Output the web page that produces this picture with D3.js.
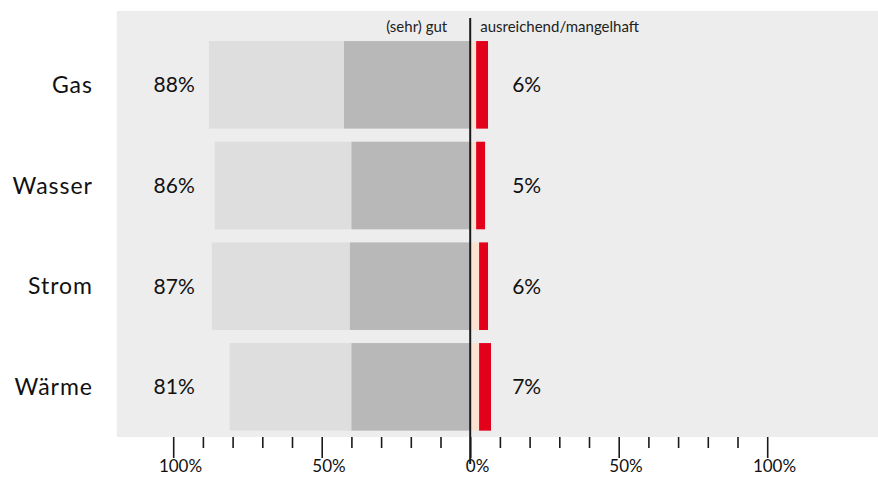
<!DOCTYPE html>
<html lang="de">
<head>
<meta charset="utf-8">
<script src="https://cdn.jsdelivr.net/npm/d3@7/dist/d3.min.js"></script>
<style>
  html, body { margin: 0; padding: 0; background: #ffffff; }
  svg { display: block; font-family: "Lato", "Noto Sans", sans-serif; }
</style>
</head>
<body>
<svg id="chart" width="878" height="477"></svg>
<script>
// Zufriedenheit mit den Versorgungssparten (Anteile in Prozent)
const categories   = ["Gas", "Wasser", "Strom", "Wärme"];
const sehrGut      = [42.5, 40, 40.5, 40];   // dunkles Segment, direkt an der Nulllinie
const gut          = [45.5, 46, 46.5, 41];   // helles Segment, außen
const ausreichend  = [2, 2, 3, 3];           // helles Segment rechts
const mangelhaft   = [4, 3, 3, 4];           // rotes Segment rechts
const headerLeft   = "(sehr) gut";
const headerRight  = "ausreichend/mangelhaft";
const tickValues   = d3.range(-100, 101, 10);
const majorTicks   = [-100, -50, 0, 50, 100];

const svg = d3.select("#chart");

// Horizontal scale: percent, mirrored around zero
const x = d3.scaleLinear().domain([-100, 100]).range([173.2, 767.2]);
const panelDomain = [-119, 137.4];

const y = d3.scaleBand()
  .domain(categories)
  .range([34.5, 437.2])
  .paddingInner(0.13)
  .paddingOuter(0.065);

const panelTop = 11, panelBottom = 437;

// Background panel
svg.append("rect")
  .attr("x", x(panelDomain[0]))
  .attr("y", panelTop)
  .attr("width", x(panelDomain[1]) - x(panelDomain[0]))
  .attr("height", panelBottom - panelTop)
  .attr("fill", "#ededed");

// Stacked segments per category
const rows = categories.map((c, i) => ({
  cat: c,
  segs: [
    { from: -(sehrGut[i] + gut[i]), to: -sehrGut[i], color: "#dedede" },
    { from: -sehrGut[i], to: 0, color: "#b8b8b8" },
    { from: 0, to: ausreichend[i], color: "#fde2d2" },
    { from: ausreichend[i], to: ausreichend[i] + mangelhaft[i], color: "#e2001a" }
  ],
  pos: sehrGut[i] + gut[i],
  neg: ausreichend[i] + mangelhaft[i]
}));

const rowG = svg.selectAll("g.row").data(rows).join("g").attr("class", "row");

rowG.selectAll("rect")
  .data(d => d.segs.map(s => ({ ...s, cat: d.cat })))
  .join("rect")
  .attr("x", s => x(Math.min(s.from, s.to)))
  .attr("width", s => Math.abs(x(s.to) - x(s.from)))
  .attr("y", s => y(s.cat))
  .attr("height", y.bandwidth())
  .attr("fill", s => s.color);

const cy = d => y(d.cat) + y.bandwidth() / 2;

// Category names
rowG.append("text")
  .attr("x", 93)
  .attr("y", cy)
  .attr("dy", "0.36em")
  .attr("text-anchor", "end")
  .attr("font-size", 23)
  .attr("letter-spacing", 1)
  .attr("fill", "#111")
  .text(d => d.cat);

// Totals, left side
rowG.append("text")
  .attr("x", x(panelDomain[0]) + 78)
  .attr("y", cy)
  .attr("dy", "0.36em")
  .attr("text-anchor", "end")
  .attr("font-size", 21)
  .attr("fill", "#111")
  .text(d => d3.format(".0f")(d.pos) + "%");

// Totals, right side
rowG.append("text")
  .attr("x", x(0) + 42)
  .attr("y", cy)
  .attr("dy", "0.36em")
  .attr("text-anchor", "start")
  .attr("font-size", 21)
  .attr("fill", "#111")
  .text(d => d3.format(".0f")(d.neg) + "%");

// Column headers
svg.append("text")
  .attr("x", x(0) - 23).attr("y", 32)
  .attr("text-anchor", "end")
  .attr("font-size", 15).attr("fill", "#222")
  .text(headerLeft);
svg.append("text")
  .attr("x", x(0) + 10).attr("y", 32)
  .attr("text-anchor", "start")
  .attr("font-size", 15).attr("fill", "#222")
  .text(headerRight);

// Axis below the panel
const axisG = svg.append("g").attr("transform", `translate(0,${panelBottom})`);
axisG.call(
  d3.axisBottom(x)
    .tickValues(tickValues)
    .tickSize(11)
    .tickFormat(d => majorTicks.includes(d) ? String(Math.abs(d)) : "")
);
axisG.select(".domain").remove();
axisG.selectAll(".tick line")
  .attr("y2", d => majorTicks.includes(d) ? 21 : 11)
  .attr("stroke", "#1a1a1a")
  .attr("stroke-width", 1.6);
axisG.selectAll(".tick text")
  .attr("font-family", "Lato, 'Noto Sans', sans-serif")
  .attr("font-size", 17)
  .attr("fill", "#111")
  .attr("y", 35)
  .attr("dy", 0)
  .each(function () {
    const t = d3.select(this);
    if (!t.text()) return;
    const w = this.getComputedTextLength();
    t.attr("text-anchor", "start").attr("x", -w / 2);
    t.append("tspan").text("%");
  });

// Zero line
svg.append("line")
  .attr("x1", x(0)).attr("x2", x(0))
  .attr("y1", 18).attr("y2", 464)
  .attr("stroke", "#1a1a1a")
  .attr("stroke-width", 2);
</script>
</body>
</html>
